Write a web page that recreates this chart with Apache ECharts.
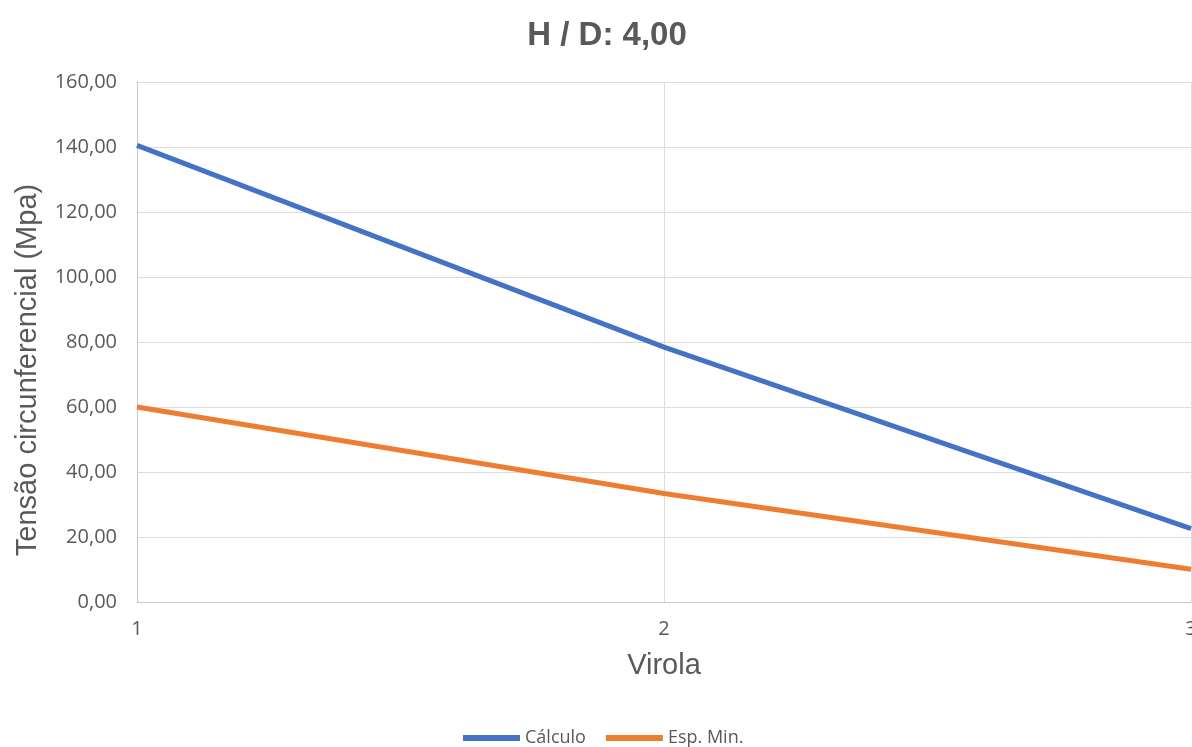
<!DOCTYPE html>
<html>
<head>
<meta charset="utf-8">
<script src="https://cdn.jsdelivr.net/npm/echarts@6/dist/echarts.min.js"></script>
<style>
  html, body { margin: 0; padding: 0; background: #ffffff; }
  #chart { width: 1192px; height: 747px; }
</style>
</head>
<body>
<div id="chart"></div>
<script>
// Virola (shell course) numbers on the x axis
const virolas = ['1', '2', '3'];
// Circumferential stress, MPa
const calculo = [140.5, 78.4, 22.6];
const espMin = [60.0, 33.4, 10.1];
// Value axis range
const yMin = 0;
const yMax = 160;
const yStep = 20;

const fmt = v => v.toFixed(2).replace('.', ',');

const chart = echarts.init(document.getElementById('chart'));
chart.setOption({
  backgroundColor: '#ffffff',
  animation: false,
  title: {
    text: 'H / D: ' + fmt(4),
    left: 602,
    textAlign: 'center',
    top: 14,
    textStyle: {
      fontFamily: 'Liberation Sans, Arial, sans-serif',
      fontWeight: 'bold',
      fontSize: 33,
      color: '#595959'
    }
  },
  grid: { left: 137, right: 1, top: 82, bottom: 145, containLabel: false, outerBoundsMode: 'none' },
  legend: {
    data: ['Cálculo', 'Esp. Min.'],
    left: 458,
    top: 724,
    itemWidth: 57,
    itemHeight: 6,
    itemGap: 20,
    icon: 'rect',
    textStyle: { fontFamily: 'Open Sans, sans-serif', fontSize: 18, color: '#595959' }
  },
  xAxis: {
    type: 'category',
    data: virolas,
    boundaryGap: false,
    name: 'Virola',
    nameLocation: 'middle',
    nameGap: 49,
    nameTextStyle: { fontFamily: 'Liberation Sans, Arial, sans-serif', fontSize: 29, color: '#595959' },
    axisLine: { show: true, lineStyle: { color: '#c8c8c8', width: 1 } },
    axisTick: { show: false },
    axisLabel: { margin: 17, fontFamily: 'Open Sans, sans-serif', fontSize: 20, color: '#595959' },
    splitLine: { show: true, lineStyle: { color: '#dcdcdc', width: 1 } }
  },
  yAxis: {
    type: 'value',
    min: yMin,
    max: yMax,
    interval: yStep,
    axisLine: { show: true, lineStyle: { color: '#c8c8c8', width: 1 } },
    axisTick: { show: false },
    axisLabel: { margin: 20, formatter: fmt, fontFamily: 'Open Sans, sans-serif', fontSize: 20, color: '#595959' },
    splitLine: { show: true, lineStyle: { color: '#dcdcdc', width: 1 } }
  },
  graphic: [{
    type: 'text',
    x: 28,
    y: 370,
    rotation: Math.PI / 2,
    style: {
      text: 'Tensão circunferencial (Mpa)',
      fontFamily: 'Liberation Sans, Arial, sans-serif',
      fontSize: 29,
      fill: '#595959',
      textAlign: 'center',
      textVerticalAlign: 'middle'
    }
  }],
  series: [
    {
      name: 'Cálculo',
      type: 'line',
      data: calculo,
      symbol: 'none',
      lineStyle: { width: 5, color: '#4472C4' },
      itemStyle: { color: '#4472C4' }
    },
    {
      name: 'Esp. Min.',
      type: 'line',
      data: espMin,
      symbol: 'none',
      lineStyle: { width: 5, color: '#ED7D31' },
      itemStyle: { color: '#ED7D31' }
    }
  ]
});
</script>
</body>
</html>
